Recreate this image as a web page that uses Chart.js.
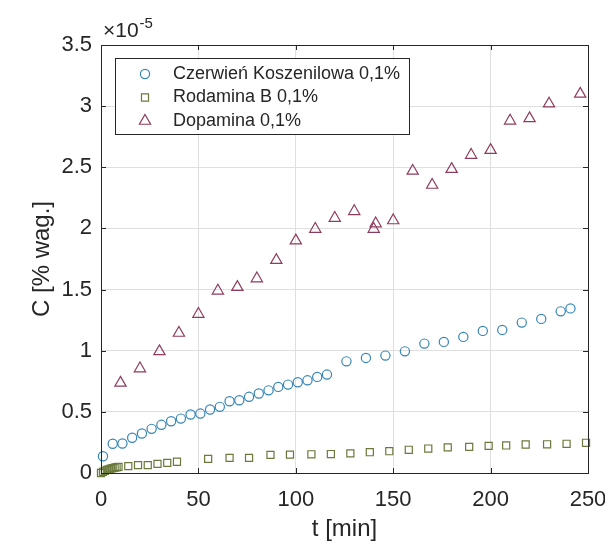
<!DOCTYPE html>
<html>
<head>
<meta charset="utf-8">
<script src="https://cdn.jsdelivr.net/npm/chart.js@4.4.1/dist/chart.umd.min.js"></script>
<style>
  html, body { margin: 0; padding: 0; background: #fff; }
  #wrap { width: 605px; height: 545px; }
</style>
</head>
<body>
<div id="wrap"><canvas id="chart"></canvas></div>
<script>
// concentrations are in units of 1e-5 % wag. (the axis shows the x10^-5 multiplier)
const ckTime = [1, 6, 11, 16, 21, 26, 31, 36, 41, 46, 51, 56, 61, 66, 71, 76, 81, 86, 91, 96, 101, 106, 111, 116,
                126, 136, 146, 156, 166, 176, 186, 196, 206, 216, 226, 236, 241];
const ckConc = [0.137, 0.239, 0.241, 0.288, 0.323, 0.361, 0.394, 0.423, 0.445, 0.478, 0.486, 0.519, 0.541, 0.587,
                0.595, 0.623, 0.650, 0.676, 0.704, 0.723, 0.742, 0.758, 0.786, 0.805,
                0.913, 0.941, 0.960, 0.995, 1.058, 1.072, 1.113, 1.162, 1.170, 1.230, 1.260, 1.322, 1.346];

const rbTime = [0, 1, 2, 3, 4, 5, 6, 7, 8, 9, 14, 19, 24, 29, 34, 39,
                55, 66, 76, 87, 97, 108, 118, 128, 138, 148, 158, 168, 178, 189, 199, 208, 218, 229, 239, 249];
const rbConc = [0.0, 0.01, 0.018, 0.025, 0.03, 0.035, 0.04, 0.044, 0.047, 0.05, 0.056, 0.064, 0.064, 0.075, 0.083, 0.092,
                0.116, 0.124, 0.124, 0.148, 0.150, 0.153, 0.155, 0.160, 0.170, 0.178, 0.190, 0.200, 0.210, 0.214,
                0.222, 0.225, 0.233, 0.235, 0.239, 0.247];

const dpTime = [10, 20, 30, 40, 50, 60, 70, 80, 90, 100, 110, 120, 130, 140, 141, 150, 160, 170, 180, 190, 200,
                210, 220, 230, 246];
const dpConc = [0.737, 0.854, 0.995, 1.145, 1.30, 1.49, 1.52, 1.59, 1.74, 1.90, 1.995, 2.085, 2.14, 1.995, 2.04,
                2.065, 2.47, 2.355, 2.485, 2.60, 2.64, 2.88, 2.90, 3.02, 3.10];

const seriesLabels = ['Czerwień Koszenilowa 0,1%', 'Rodamina B 0,1%', 'Dopamina 0,1%'];
const seriesColors = ['#3585b5', '#6a7a3c', '#8e3b5e'];
const seriesStyles = ['circle', 'rect', 'triangle'];
const seriesRadius = [4.6, 5, 6.5];

const xTicks = [0, 50, 100, 150, 200, 250];
const yTicks = [0, 0.5, 1, 1.5, 2, 2.5, 3, 3.5];

const FONT = "'Liberation Sans', Arial, sans-serif";
const INK = '#262626';

const toPoints = (xs, ys) => xs.map((t, i) => ({ x: t, y: ys[i] }));
const seriesData = [toPoints(ckTime, ckConc), toPoints(rbTime, rbConc), toPoints(dpTime, dpConc)];

// box, inward tick marks, legend and the exponent label, MATLAB style
const matlabAxes = {
  id: 'matlabAxes',
  afterDatasetsDraw(chart) {
    const { ctx, chartArea: a, scales: { x, y } } = chart;
    const tl = 5;
    ctx.save();
    ctx.strokeStyle = INK;
    ctx.lineWidth = 1;
    ctx.beginPath();
    x.ticks.forEach(t => {
      const px = Math.round(x.getPixelForValue(t.value)) + 0.5;
      ctx.moveTo(px, a.bottom); ctx.lineTo(px, a.bottom - tl);
      ctx.moveTo(px, a.top);    ctx.lineTo(px, a.top + tl);
    });
    y.ticks.forEach(t => {
      const py = Math.round(y.getPixelForValue(t.value)) + 0.5;
      ctx.moveTo(a.left, py);  ctx.lineTo(a.left + tl, py);
      ctx.moveTo(a.right, py); ctx.lineTo(a.right - tl, py);
    });
    ctx.stroke();
    ctx.strokeRect(Math.round(a.left) + 0.5, Math.round(a.top) + 0.5,
                   Math.round(a.right - a.left), Math.round(a.bottom - a.top));

    // legend
    const lx = 115.5, ly = 58.5, lw = 294, lh = 76;
    ctx.fillStyle = '#fff';
    ctx.fillRect(lx, ly, lw, lh);
    ctx.strokeRect(lx, ly, lw, lh);
    ctx.font = '18px ' + FONT;
    ctx.textBaseline = 'middle';
    ctx.textAlign = 'left';
    seriesLabels.forEach((label, i) => {
      const cy = 74 + i * 23.5;
      ctx.fillStyle = 'rgba(0,0,0,0)';
      ctx.strokeStyle = seriesColors[i];
      ctx.lineWidth = 1.2;
      Chart.helpers.drawPoint(ctx, {
        pointStyle: seriesStyles[i], radius: seriesRadius[i], rotation: 0, borderWidth: 1.2
      }, 145, cy);
      ctx.fillStyle = INK;
      ctx.fillText(label, 173, cy);
    });
    ctx.restore();
  },
  afterDraw(chart) {
    const { ctx } = chart;
    ctx.save();
    ctx.fillStyle = INK;
    ctx.textBaseline = 'alphabetic';
    ctx.textAlign = 'left';
    ctx.font = '21px ' + FONT;
    ctx.fillText('×10', 103, 37);
    const w = ctx.measureText('×10').width;
    ctx.font = '15px ' + FONT;
    ctx.fillText('-5', 103 + w + 1, 28);
    ctx.restore();
  }
};

new Chart(document.getElementById('chart'), {
  type: 'scatter',
  data: {
    datasets: seriesLabels.map((label, i) => ({
      label,
      data: seriesData[i],
      pointStyle: seriesStyles[i],
      pointRadius: seriesRadius[i],
      pointBorderWidth: 1.2,
      borderColor: seriesColors[i],
      backgroundColor: 'rgba(0,0,0,0)',
      clip: false,
    })),
  },
  options: {
    responsive: true,
    maintainAspectRatio: false,
    animation: false,
    events: [],
    layout: { padding: { left: 0, top: 45, right: 17, bottom: 0 } },
    plugins: { legend: { display: false }, tooltip: { enabled: false } },
    scales: {
      x: {
        type: 'linear', min: 0, max: 250,
        afterBuildTicks: s => { s.ticks = xTicks.map(v => ({ value: v })); },
        afterFit: s => { s.height = 72; s.paddingLeft = 0; s.paddingRight = 0; },
        ticks: { color: INK, font: { family: FONT, size: 22 }, padding: 14, maxRotation: 0, autoSkip: false,
                 callback: v => String(v) },
        grid: { color: '#dfdfdf', drawTicks: false },
        border: { display: true, color: INK },
        title: { display: true, text: 't [min]', color: INK, font: { family: FONT, size: 24 },
                 padding: { top: 0, bottom: 1 } },
      },
      y: {
        type: 'linear', min: 0, max: 3.5,
        afterBuildTicks: s => { s.ticks = yTicks.map(v => ({ value: v })); },
        afterFit: s => { s.width = 101; s.paddingTop = 0; s.paddingBottom = 0; },
        ticks: { color: INK, font: { family: FONT, size: 22 }, padding: 9, autoSkip: false,
                 callback: v => String(v) },
        grid: { color: '#dfdfdf', drawTicks: false },
        border: { display: true, color: INK },
        title: { display: true, text: 'C [% wag.]', color: INK, font: { family: FONT, size: 24 },
                 padding: { top: 28, bottom: 0 } },
      },
    },
  },
  plugins: [matlabAxes],
});
</script>
</body>
</html>
